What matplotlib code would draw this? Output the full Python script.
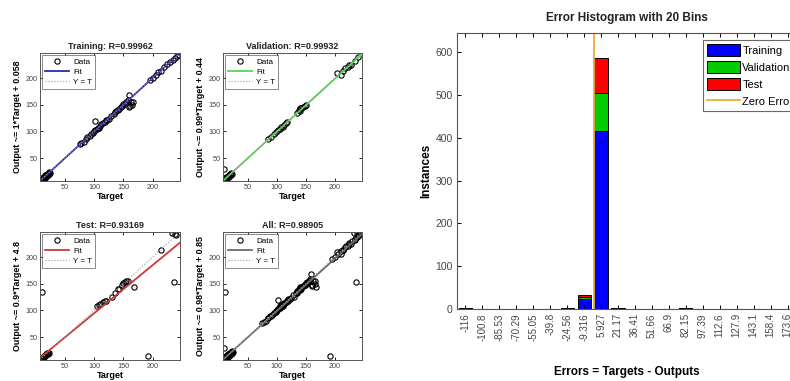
# -*- coding: utf-8 -*-
"""Regression plots (Training / Validation / Test / All) + error histogram."""

import numpy as np
import matplotlib
matplotlib.use("Agg")
import matplotlib.pyplot as plt
from matplotlib.patches import Patch
from matplotlib.lines import Line2D

plt.rcParams["font.family"] = ["Liberation Sans", "DejaVu Sans"]

# =========================================================================
# Data
# =========================================================================

# ---- Training ----
train_target = [8, 9, 10, 11, 12, 13, 14, 15, 16, 17, 18, 19, 20, 21, 22, 23, 24,
                10, 12, 14, 16, 18, 20, 22, 9, 11, 13, 15, 17, 19, 21, 23,
                75, 78, 82, 85, 88, 92, 95, 98,
                100, 102, 102, 104, 106, 108, 110, 112, 115, 118, 120, 122, 125, 128,
                133, 135, 138, 140, 142, 145, 148, 150, 152, 155, 158, 159, 161, 163,
                165, 160, 166,
                195, 200, 205, 210, 215, 220, 225, 230, 235, 238, 242, 245]
train_output = [8, 9, 10, 10, 12, 13, 14, 15, 16, 17, 18, 19, 20, 21, 22, 23, 22,
                12, 10, 13, 18, 16, 18, 20, 11, 12, 15, 13, 15, 21, 19, 21,
                76, 78, 81, 86, 89, 92, 95, 97,
                100, 119, 103, 105, 106, 107, 110, 113, 115, 117, 121, 122, 124, 128,
                133, 136, 138, 141, 142, 145, 148, 151, 152, 156, 158, 168, 148, 156,
                150, 145, 155,
                196, 201, 205, 211, 214, 220, 226, 230, 234, 238, 242, 244]

# ---- Validation ----
val_target = [8, 10, 12, 13, 14, 16, 18, 20, 11, 15, 19, 22, 9, 17, 21,
              85, 90, 95, 98, 102, 105, 107, 110, 112, 115, 118,
              135, 138, 140, 142, 145, 148, 150, 140,
              203, 210, 215, 218, 222, 225, 228, 235, 240]
val_output = [30, 10, 12, 14, 13, 16, 18, 19, 11, 16, 20, 20, 8, 15, 22,
              85, 90, 96, 98, 103, 104, 108, 109, 112, 116, 118,
              135, 140, 138, 143, 145, 147, 150, 144,
              209, 206, 214, 218, 220, 225, 224, 232, 240]

# ---- Test ----
test_target = [10, 12, 14, 15, 16, 18, 20, 13, 17, 19, 22, 9, 21,
               10,
               105, 108, 110, 115, 118, 120, 130, 135, 140, 142, 148, 150, 152, 155, 157,
               168, 192, 215, 236, 233, 238, 240]
test_output = [10, 12, 14, 15, 16, 18, 20, 12, 16, 21, 20, 9, 19,
               135,
               108, 110, 112, 115, 117, 118, 125, 132, 140, 141, 148, 152, 153, 155, 156,
               144, 14, 213, 153, 246, 244, 242]

# Fit coefficients (slope, intercept) and R values
FITS = {
    "Training": (1.0, 0.058, "0.99962", "1", "0.058"),
    "Validation": (0.99, 0.44, "0.99932", "0.99", "0.44"),
    "Test": (0.9, 4.8, "0.93169", "0.9", "4.8"),
    "All": (0.98, 0.85, "0.98905", "0.98", "0.85"),
}

# ---- Error histogram (20 bins) ----
bin_centers = ["-116", "-100.8", "-85.53", "-70.29", "-55.05", "-39.8", "-24.56",
               "-9.316", "5.927", "21.17", "36.41", "51.66", "66.9", "82.15",
               "97.39", "112.6", "127.9", "143.1", "158.4", "173.6"]
hist_train = [2, 0, 0, 0, 0, 0, 2, 23, 415, 2, 0, 0, 0, 2, 0, 0, 0, 0, 0, 1]
hist_val = [0, 0, 0, 0, 0, 0, 0, 5, 90, 0, 0, 0, 0, 0, 0, 0, 0, 0, 0, 0]
hist_test = [0, 0, 0, 0, 0, 0, 0, 5, 81, 0, 0, 0, 0, 0, 0, 0, 0, 0, 0, 0]
zero_error_pos = 8.61   # bar index where error = 0

# =========================================================================
# Style
# =========================================================================

FIT_COLORS = {
    "Training": "#2b2bb0",
    "Validation": "#55d655",
    "Test": "#c83a3a",
    "All": "#6a6a6a",
}
AX_LIM = (7, 247)
W, H = 790, 381


def px_rect(left, top, right, bottom):
    """Pixel box -> figure fraction [l, b, w, h]."""
    return [left / W, 1 - bottom / H, (right - left) / W, (bottom - top) / H]


def regression_panel(fig, rect, name, tx, ty):
    slope, icpt, r_txt, s_txt, i_txt = FITS[name]
    ax = fig.add_axes(rect)
    ax.plot(tx, ty, "o", mfc="none", mec="black", ms=3.8, mew=0.8,
            label="Data", clip_on=True)
    xs = np.array(AX_LIM)
    ax.plot(xs, slope * xs + icpt, color=FIT_COLORS[name], lw=1.3, label="Fit")
    ax.plot(xs, xs, ":", color="#999999", lw=0.8, label="Y = T")
    ax.set_xlim(*AX_LIM)
    ax.set_ylim(*AX_LIM)
    ax.set_xticks([50, 100, 150, 200])
    ax.set_yticks([50, 100, 150, 200])
    ax.tick_params(direction="in", length=2.5, width=0.6, labelsize=5.2,
                   labelcolor="#444444", top=True, right=True, pad=2)
    for sp in ax.spines.values():
        sp.set_linewidth(0.7)
        sp.set_color("#555555")
    ax.set_title(f"{name}: R={r_txt}", fontsize=6.5, fontweight="bold",
                 color="#222222", pad=3)
    ax.set_xlabel("Target", fontsize=6.5, fontweight="bold", labelpad=1)
    ax.set_ylabel(f"Output ~= {s_txt}*Target + {i_txt}", fontsize=6.4,
                  fontweight="bold", labelpad=2)
    leg = ax.legend(loc="upper left", fontsize=5.8, frameon=True, fancybox=False,
                    edgecolor="#555555", handlelength=3.0, borderpad=0.35,
                    labelspacing=0.3, handletextpad=0.5,
                    borderaxespad=0.3)
    leg.get_frame().set_linewidth(0.6)
    return ax


fig = plt.figure(figsize=(W / 100, H / 100), dpi=100)

all_target = train_target + val_target + test_target
all_output = train_output + val_output + test_output

regression_panel(fig, px_rect(40, 53, 180, 181), "Training", train_target, train_output)
regression_panel(fig, px_rect(223, 53, 362, 181), "Validation", val_target, val_output)
regression_panel(fig, px_rect(40, 232, 180, 360), "Test", test_target, test_output)
regression_panel(fig, px_rect(223, 232, 362, 360), "All", all_target, all_output)

# ---- Error histogram ----
axh = fig.add_axes(px_rect(457, 33, 796, 309))
idx = np.arange(1, len(bin_centers) + 1)
ht = np.array(hist_train)
hv = np.array(hist_val)
hs = np.array(hist_test)
axh.bar(idx, ht, width=0.78, color="#0000ff", edgecolor="black", lw=0.7)
axh.bar(idx, hv, width=0.78, bottom=ht, color="#00cc00", edgecolor="black", lw=0.7)
axh.bar(idx, hs, width=0.78, bottom=ht + hv, color="#ff0000", edgecolor="black", lw=0.7)
axh.axvline(zero_error_pos, color="#f2a93b", lw=1.3)

total_max = (ht + hv + hs).max()
axh.set_xlim(0.5, len(bin_centers) + 0.5)
axh.set_ylim(0, total_max * 1.1)
axh.set_xticks(idx)
axh.set_xticklabels(bin_centers, rotation=90, fontsize=7, color="#444444")
axh.set_yticks([0, 100, 200, 300, 400, 500, 600])
axh.tick_params(axis="y", labelsize=7.5, labelcolor="#444444")
axh.tick_params(direction="in", length=3, width=0.7, top=True, right=True, pad=3)
for sp in axh.spines.values():
    sp.set_linewidth(0.8)
    sp.set_color("#555555")
axh.set_title("Error Histogram with 20 Bins", fontsize=8.5, fontweight="bold",
              color="#222222", pad=9)
axh.set_xlabel("Errors = Targets - Outputs", fontsize=8.5, fontweight="bold",
               labelpad=18)
axh.set_ylabel("Instances", fontsize=8.5, fontweight="bold", labelpad=2)

handles = [
    Patch(facecolor="#0000ff", edgecolor="black", lw=0.7, label="Training"),
    Patch(facecolor="#00cc00", edgecolor="black", lw=0.7, label="Validation"),
    Patch(facecolor="#ff0000", edgecolor="black", lw=0.7, label="Test"),
    Line2D([0], [0], color="#f2a93b", lw=1.3, label="Zero Error"),
]
leg = fig.legend(handles=handles, loc="upper left",
                 bbox_to_anchor=(703 / W, 1 - 40 / H),
                 fontsize=8, frameon=True, fancybox=False,
                 edgecolor="#444444", handlelength=3.0, handleheight=1.3,
                 handletextpad=0.2, labelspacing=0.45, borderpad=0.35,
                 borderaxespad=0.0)
leg.get_frame().set_linewidth(0.8)

fig.savefig("out.png", dpi=100)
